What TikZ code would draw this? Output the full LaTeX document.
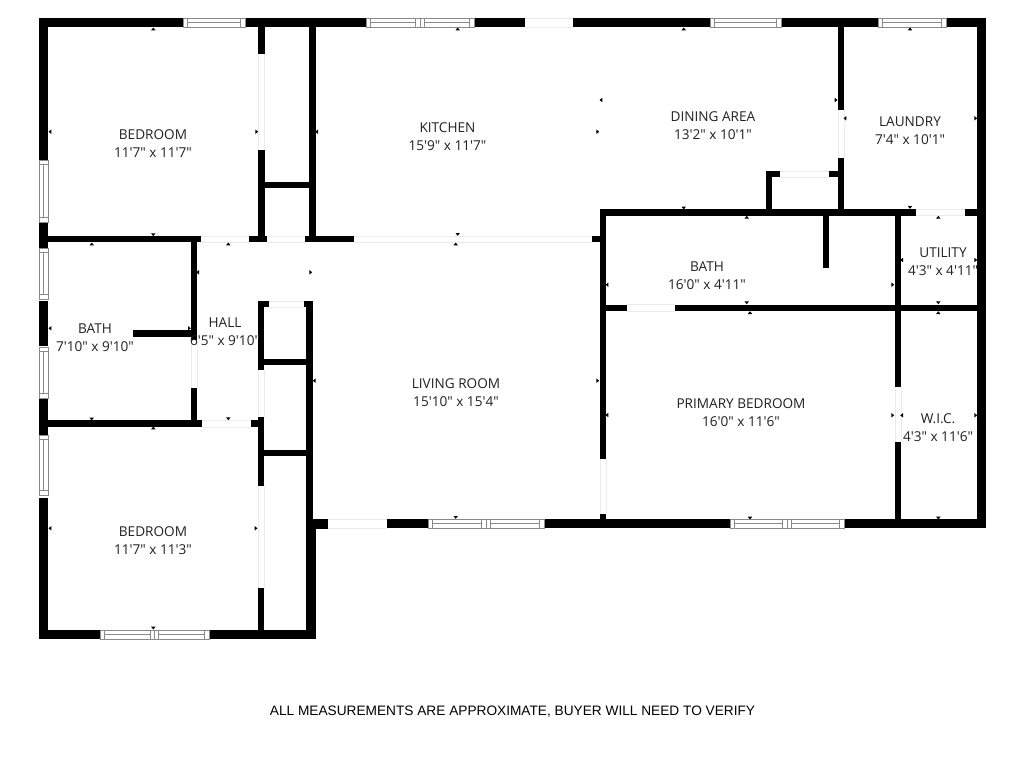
\documentclass[tikz,border=0pt]{standalone}
\usepackage{fontspec}
\newfontfamily\roomfont{Open Sans}
\newfontfamily\notefont{Liberation Sans}
\definecolor{wallc}{HTML}{000000}
\definecolor{txt}{HTML}{222222}
\definecolor{winc}{HTML}{8A8A8A}
\definecolor{doorc}{HTML}{EBEBEB}
\tikzset{
  wall/.style={fill=wallc},
  roomlabel/.style={text=txt,align=center,inner sep=0pt,font=\roomfont\fontsize{13.6}{18}\selectfont},
  note/.style={text=black,inner sep=0pt,font=\notefont\fontsize{13.68}{15}\selectfont},
  winline/.style={draw=winc,line width=.7pt},
  doorline/.style={draw=doorc,line width=.6pt},
  dimmark/.style={fill=black}
}
\newcommand\HWin[4]{% x1 x2 y1 y2
  \fill[white] (#1,#3) rectangle (#2,#4);
  \draw[winline] (#1,#3) rectangle (#2,#4);
  \draw[winline] (#1+4.2,#3) -- (#1+4.2,#4) (#2-4.2,#3) -- (#2-4.2,#4);
  \draw[winline] (#1+4.2,{(#3+#4)/2}) -- (#2-4.2,{(#3+#4)/2});}
\newcommand\HDWin[4]{%
  \fill[white] (#1,#3) rectangle (#2,#4);
  \draw[winline] (#1,#3) rectangle (#2,#4);
  \draw[winline] (#1+4.2,#3) -- (#1+4.2,#4) (#2-4.2,#3) -- (#2-4.2,#4);
  \draw[winline] ({(#1+#2)/2-4.3},#3) -- ({(#1+#2)/2-4.3},#4)
    ({(#1+#2)/2},#3) -- ({(#1+#2)/2},#4)
    ({(#1+#2)/2+4.3},#3) -- ({(#1+#2)/2+4.3},#4);
  \draw[winline] (#1+4.2,{(#3+#4)/2}) -- ({(#1+#2)/2-4.3},{(#3+#4)/2})
    ({(#1+#2)/2+4.3},{(#3+#4)/2}) -- (#2-4.2,{(#3+#4)/2});}
\newcommand\VWin[4]{% x1 x2 y1 y2
  \fill[white] (#1,#3) rectangle (#2,#4);
  \draw[winline] (#1,#3) rectangle (#2,#4);
  \draw[winline] (#1,#3+4.2) -- (#2,#3+4.2) (#1,#4-4.2) -- (#2,#4-4.2);
  \draw[winline] ({(#1+#2)/2},#3+4.2) -- ({(#1+#2)/2},#4-4.2);}
\begin{document}
\begin{tikzpicture}[x=1pt,y=-1pt]
\useasboundingbox[fill=white] (0,0) rectangle (1024,768);
% door openings (thin pale edges)
\foreach \a/\b/\y in {525/573/18,525/573/27,
  201/249/236,201/249/242,267/305/236,267/305/242,354/592/236,354/592/242,
  202/251/420,202/251/427,269/304/301,269/304/307,
  328/387/519,328/387/528,780/829/171,780/829/177,
  916/965/209,916/965/215,626/675/304,626/675/311}
  \draw[doorline] (\a,\y) -- (\b,\y);
\foreach \x/\a/\b in {258/54/150,264/54/150,191/340/388,197/340/388,
  258/370/417,264/370/417,258/486/588,264/486/588,
  600/459/514,606/459/514,838/110/158,844/110/158,
  895/387/442,901/387/442}
  \draw[doorline] (\x,\a) -- (\x,\b);
% walls
\foreach \a/\b/\c/\d in {
  39/18/183/27, 245/18/366/27, 474/18/525/27, 573/18/710/27, 781/18/878/27, 946/18/986/27,
  977/18/986/528,
  39/18/48/160, 39/222/48/248, 39/301/48/346, 39/398/48/435, 39/498/48/639,
  39/630/100/639, 209/630/316/639,
  306/528/316/639, 306/301/312.7/528,
  306/519/328/529, 387/519/428/528, 544/519/730/528, 844/519/986/528,
  258/27/264.5/54, 258/150/264.5/242,
  309/27/316/242, 264/182/309/188.3,
  48/236/201/242, 249/236/267/242, 305/236/354/242, 592/236/600/242,
  191/236/197/340, 191/388/197/424, 133/330/191/336.5,
  48/420/202/427, 251/420/258/427,
  258/301/264/370, 258/301/269/307, 304/301/312/307,
  258/417/264/486, 258/588/264/630,
  264/359/306/365, 264/450/306/456,
  600/209/606/459, 600/514/606/520,
  600/209/916/215.5, 965/209/977/215.5,
  765.5/171/772/209, 765.5/171/780/177, 829/171/840/177,
  838/27/844/110, 838/158/844/209,
  822.5/215/829/267.5,
  895/215/901/387, 895/442/901/520,
  606/304.5/626.5/311, 675/304.5/977/311}
  \fill[wall] (\a,\b) rectangle (\c,\d);
% windows
\HWin{183}{245}{18}{27}
\HDWin{366}{474}{18}{27}
\HWin{710}{781}{18}{27}
\HWin{878}{946}{18}{27}
\HDWin{100}{209}{630}{639}
\HDWin{428}{544}{519}{528}
\HDWin{730}{844}{519}{528}
\VWin{39}{48}{160}{222}
\VWin{39}{48}{248}{299}
\VWin{39}{48}{347}{398}
\VWin{39}{48}{435}{495}
% measurement marks
\foreach \x/\y in {153.3/29,683.7/29,910/29,457.7/29,91.7/244,228.3/244,455.7/244,153.3/428,
  746.7/217.3,938.3/217.3,750/312.7,938.3/312.7}
  \fill[dimmark] (\x-2.2,\y+1.3) -- (\x+2.2,\y+1.3) -- (\x,\y-1.5) -- cycle;
\foreach \x/\y in {153.3/234.7,91.7/419,228.3/418.7,153.3/628,457.7/234.3,455.7/517.3,
  683.7/208,910/207.3,746.7/302.7,938.3/302.7,750/518,938.3/518}
  \fill[dimmark] (\x-2.2,\y-1.3) -- (\x+2.2,\y-1.3) -- (\x,\y+1.5) -- cycle;
\foreach \x/\y in {50/131.7,316.7/131.7,197.7/272.3,50/328.3,314.3/380.7,50/528.3,
  601/100,607/415,607/284.7,845/118.3,901.7/260,901.7/415.3}
  \fill[dimmark] (\x+1.3,\y-2.2) -- (\x+1.3,\y+2.2) -- (\x-1.5,\y) -- cycle;
\foreach \x/\y in {256.7/131.7,310.7/272.3,189.3/328.3,256/528.3,597.7/131.7,597.7/380.7,
  836/100,975.7/118.3,892.7/284.7,975.7/260,892.7/415.3,975.7/415.3}
  \fill[dimmark] (\x-1.3,\y-2.2) -- (\x-1.3,\y+2.2) -- (\x+1.5,\y) -- cycle;
% labels
\node[roomlabel] (bedA) at (153,144) {BEDROOM\\11'7" x 11'7"};
\node[roomlabel] (kitchen) at (447.5,137) {KITCHEN\\15'9" x 11'7"};
\node[roomlabel] (dining) at (713,126) {DINING AREA\\13'2" x 10'1"};
\node[roomlabel] (laundry) at (910,131) {LAUNDRY\\7'4" x 10'1"};
\node[roomlabel] (bathA) at (95,338) {BATH\\7'10" x 9'10"};
\node[roomlabel] (hall) at (225,332) {HALL\\6'5" x 9'10"};
\node[roomlabel] (living) at (456,393) {LIVING ROOM\\15'10" x 15'4"};
\node[roomlabel] (bathB) at (707,276) {BATH\\16'0" x 4'11"};
\node[roomlabel] (utility) at (943,262) {UTILITY\\4'3" x 4'11"};
\node[roomlabel] (primary) at (741,412.5) {PRIMARY BEDROOM\\16'0" x 11'6"};
\node[roomlabel] (wic) at (938,427.5) {W.I.C.\\4'3" x 11'6"};
\node[roomlabel] (bedB) at (153,541) {BEDROOM\\11'7" x 11'3"};
\node[note] (disclaimer) at (512.5,711.5) {ALL MEASUREMENTS ARE APPROXIMATE, BUYER WILL NEED TO VERIFY};
\end{tikzpicture}
\end{document}
